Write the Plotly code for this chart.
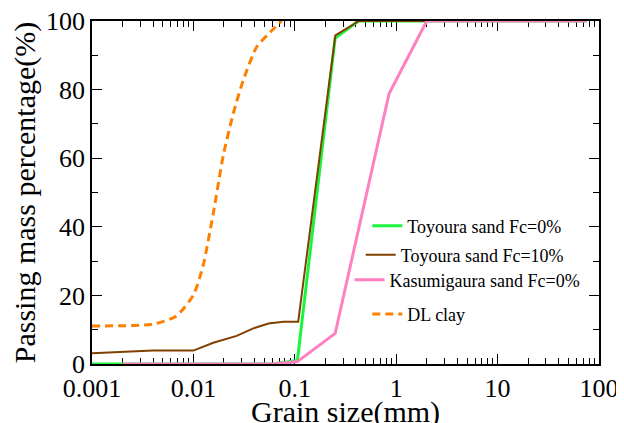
import plotly.graph_objects as go

# Toyoura sand Fc=0%
toy0_x = [0.001, 0.06, 0.106, 0.25, 0.425, 75]
toy0_y = [0, 0, 1, 95, 100, 100]

# Toyoura sand Fc=10%
toy10_x = [0.001, 0.004, 0.01, 0.0157, 0.0267, 0.039, 0.055, 0.077, 0.108, 0.251, 0.43, 75]
toy10_y = [3.1, 3.9, 3.9, 6.2, 8.2, 10.4, 11.8, 12.3, 12.3, 95.8, 100, 100]

# Kasumigaura sand Fc=0%
kas_x = [0.002, 0.06, 0.106, 0.25, 0.85, 2, 75]
kas_y = [0, 0, 0.7, 8.9, 78.8, 100, 100]

# DL clay
dl_x = [0.001, 0.004, 0.0068, 0.01, 0.0125, 0.0157, 0.0197, 0.0247, 0.031, 0.042, 0.057, 0.074]
dl_y = [11.1, 11.6, 14.0, 20.1, 28.8, 43.9, 60.8, 73.0, 82.7, 92.4, 96.7, 100]

names = ["Toyoura sand Fc=0%", "Toyoura sand Fc=10%", "Kasumigaura sand Fc=0%", "DL clay"]

x_tickvals = [0.001, 0.01, 0.1, 1, 10, 100]
x_ticktext = ["0.001", "0.01", "0.1", "1", "10", "100"]
x_minor = [m * 10.0 ** e for e in range(-3, 2) for m in range(2, 10)]
y_tickvals = [0, 20, 40, 60, 80, 100]
y_minor = [10, 30, 50, 70, 90]

FONT = "Liberation Serif"

fig = go.Figure()
fig.add_trace(go.Scatter(x=toy0_x, y=toy0_y, mode="lines", name=names[0], showlegend=True, cliponaxis=False,
                         line=dict(color="#19f53c", width=3), legend="legend"))
fig.add_trace(go.Scatter(x=toy10_x, y=toy10_y, mode="lines", name=names[1], showlegend=True, cliponaxis=False,
                         line=dict(color="#7f4000", width=2), legend="legend2"))
fig.add_trace(go.Scatter(x=kas_x, y=kas_y, mode="lines", name=names[2], showlegend=True, cliponaxis=False,
                         line=dict(color="#ff80c0", width=3), legend="legend3"))
fig.add_trace(go.Scatter(x=dl_x, y=dl_y, mode="lines", name=names[3], showlegend=True, cliponaxis=False,
                         line=dict(color="#ff8000", width=3, dash="8px,5px", shape="spline", smoothing=0.6),
                         legend="legend4"))

leg_common = dict(bgcolor="rgba(0,0,0,0)", borderwidth=0, xanchor="left", yanchor="middle",
                  font=dict(family=FONT, size=18, color="black"), itemwidth=30)

# page body has an 8px margin, so the figure is 8px smaller and margins shifted
fig.update_layout(
    width=616, height=415,
    showlegend=True,
    margin=dict(l=84, r=25, t=13, b=59),
    paper_bgcolor="white", plot_bgcolor="white",
    font=dict(family=FONT, color="black"),
    legend=dict(x=0.543, y=0.402, **leg_common),
    legend2=dict(x=0.530, y=0.318, **leg_common),
    legend3=dict(x=0.508, y=0.245, **leg_common),
    legend4=dict(x=0.543, y=0.145, **leg_common),
    xaxis=dict(
        type="log", range=[-3, 2], automargin=False, layer="below traces",
        tickvals=x_tickvals, ticktext=x_ticktext, ticklabeloverflow="allow",
        ticks="inside", ticklen=10, tickwidth=1, tickcolor="black",
        minor=dict(tickvals=x_minor, ticks="inside", ticklen=6, tickcolor="black", showgrid=False),
        showline=True, linecolor="black", linewidth=1.5, mirror="allticks",
        showgrid=False, zeroline=False,
        tickfont=dict(family=FONT, size=26, color="black"),
    ),
    yaxis=dict(
        range=[0, 100], automargin=False, layer="below traces",
        tickvals=y_tickvals, ticklabeloverflow="allow",
        ticks="inside", ticklen=10, tickwidth=1, tickcolor="black",
        minor=dict(tickvals=y_minor, ticks="inside", ticklen=6, tickcolor="black", showgrid=False),
        showline=True, linecolor="black", linewidth=1.5, mirror="allticks",
        showgrid=False, zeroline=False,
        tickfont=dict(family=FONT, size=26, color="black"),
        title=dict(text="Passing mass percentage(%)", font=dict(family=FONT, size=30, color="black"), standoff=14),
    ),
)

# x-axis title (sits partly below the page edge, as in the reference)
fig.add_annotation(text="Grain size(mm)", xref="paper", yref="paper", x=0.5, y=-0.085,
                   xanchor="center", yanchor="top", showarrow=False,
                   font=dict(family=FONT, size=30, color="black"))

fig.write_html("out.html")
